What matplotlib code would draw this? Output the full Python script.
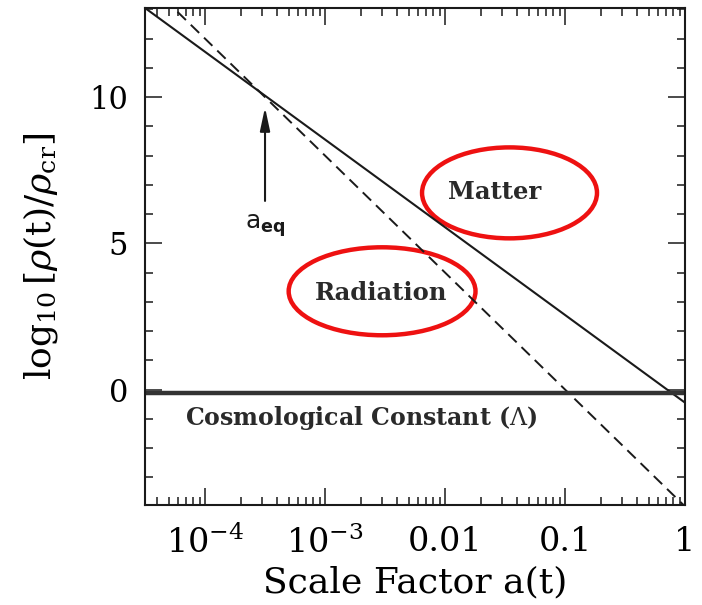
import matplotlib
matplotlib.use("Agg")
import matplotlib.pyplot as plt
from matplotlib.patches import Ellipse
from matplotlib.ticker import FixedLocator, LogLocator, MultipleLocator, NullFormatter

plt.rcParams['font.family'] = 'DejaVu Serif'
plt.rcParams['mathtext.fontset'] = 'dejavuserif'

# Energy density of each component vs scale factor (log10 of rho/rho_cr)
scale_factor = [3.16e-5, 1e-4, 1e-3, 1e-2, 1e-1, 1.0]
log_rho_matter = [13.05, 11.55, 8.55, 5.55, 2.55, -0.45]
log_rho_radiation = [14.0, 12.0, 8.0, 4.0, 0.0, -4.0]
log_rho_lambda = [-0.12, -0.12, -0.12, -0.12, -0.12, -0.12]

# matter-radiation equality marker
a_eq = 3.16e-4
arrow_y = [6.45, 9.65]

x_ticks = [1e-4, 1e-3, 1e-2, 1e-1, 1.0]
x_tick_labels = [r'$10^{-4}$', r'$10^{-3}$', '0.01', '0.1', '1']
y_ticks = [0, 5, 10]

fig = plt.figure(figsize=(7.02, 6.05), dpi=100)
ax = fig.add_axes([0.2066, 0.1653, 0.7692, 0.8215])

ax.plot(scale_factor, log_rho_matter, color='#1a1a1a', lw=1.5)
ax.plot(scale_factor, log_rho_radiation, color='#1a1a1a', lw=1.4, dashes=(6, 3.5))
ax.plot(scale_factor, log_rho_lambda, color='#333333', lw=3.2, solid_capstyle='butt')

ax.set_xscale('log')
ax.set_xlim(3.16e-5, 1.0)
ax.set_ylim(-3.95, 13.05)

ax.xaxis.set_major_locator(FixedLocator(x_ticks))
ax.set_xticklabels(x_tick_labels)
ax.xaxis.set_minor_locator(LogLocator(base=10, subs=range(2, 10), numticks=20))
ax.xaxis.set_minor_formatter(NullFormatter())
ax.yaxis.set_major_locator(FixedLocator(y_ticks))
ax.yaxis.set_minor_locator(MultipleLocator(1))

ax.tick_params(which='both', direction='in', top=True, right=True,
               width=1.1, labelsize=22, color='#1a1a1a')
ax.tick_params(axis='x', which='major', labelsize=24, pad=15)
ax.tick_params(which='major', length=12)
ax.tick_params(which='minor', length=5.5)
ax.tick_params(axis='y', which='major', pad=12)
for spine in ax.spines.values():
    spine.set_linewidth(1.5)
    spine.set_color('#1a1a1a')

ax.set_xlabel('Scale Factor a(t)', fontsize=26, labelpad=4)
ax.set_ylabel(r'$\log_{10}[\rho(\mathrm{t})/\rho_{\mathrm{cr}}]$', fontsize=26, labelpad=21)

# component labels
ax.text(0.647, 0.63, 'Matter', transform=ax.transAxes, ha='center', va='center',
        fontsize=17.5, fontweight='bold', color='#2a2a2a')
ax.text(0.437, 0.427, 'Radiation', transform=ax.transAxes, ha='center', va='center',
        fontsize=17.5, fontweight='bold', color='#2a2a2a')
ax.text(0.4, 0.176, r'Cosmological Constant ($\Lambda$)', transform=ax.transAxes,
        ha='center', va='center', fontsize=17, fontweight='bold', color='#2a2a2a')

# arrow marking a_eq
ax.annotate('', xy=(a_eq, arrow_y[1]), xytext=(a_eq, arrow_y[0]),
            arrowprops=dict(arrowstyle='-|>,head_length=1.4,head_width=0.3',
                            color='#1a1a1a', lw=1.5, shrinkA=0, shrinkB=0))
ax.text(a_eq, 5.6, r'$\mathrm{a}_{\mathbf{eq}}$', ha='center', va='center',
        fontsize=18, math_fontfamily='dejavusans', color='#1a1a1a')

# red highlight ellipses
ax.add_patch(Ellipse((0.675, 0.628), 0.324, 0.183, transform=ax.transAxes,
                     fill=False, edgecolor='#ee1111', lw=3.2))
ax.add_patch(Ellipse((0.439, 0.43), 0.346, 0.177, transform=ax.transAxes,
                     fill=False, edgecolor='#ee1111', lw=3.2))

fig.savefig('out.png', dpi=100)
